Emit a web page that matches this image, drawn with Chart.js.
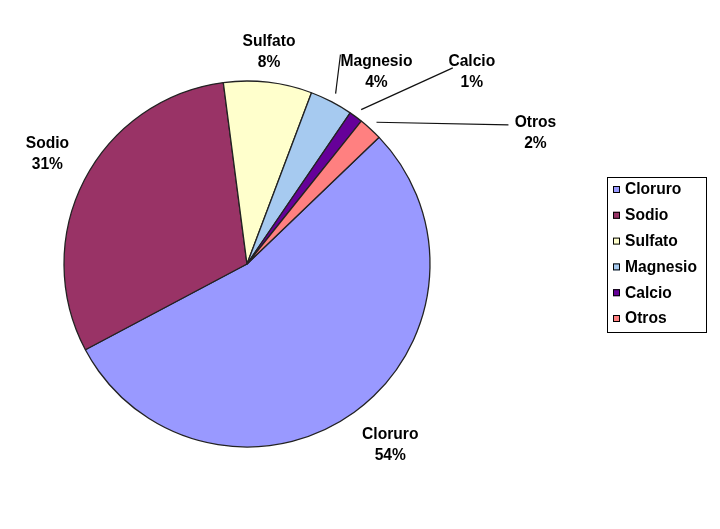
<!DOCTYPE html>
<html>
<head>
<meta charset="utf-8">
<script src="https://cdn.jsdelivr.net/npm/chart.js@4/dist/chart.umd.min.js"></script>
<style>
html,body{margin:0;padding:0;background:#fff;}
#wrap{width:720px;height:529px;position:relative;}
</style>
</head>
<body>
<div id="wrap"><canvas id="c" width="720" height="529"></canvas></div>
<script>
const categories = ["Cloruro", "Sodio", "Sulfato", "Magnesio", "Calcio", "Otros"];
const values = [54.4, 30.7, 7.8, 3.8, 1.2, 2.1];
const colors = ["#9999FF", "#993366", "#FFFFCC", "#A6CAF0", "#660099", "#FF8080"];

// label placement (offset from the outer midpoint of each slice) and leader lines
const labelOffsets = [[36, 32], [-37, -26], [1, -31], [45, -30], [116, -45], [165, 4]];
const leaderEnds = [null, null, null, [-36, -17], [-19, -4], [-27, -8]];

const FONT = "bold 15.6px 'Liberation Sans', Arial, sans-serif";

const labelPlugin = {
  id: 'excelLabels',
  afterDatasetsDraw(chart) {
    const ctx = chart.ctx;
    const meta = chart.getDatasetMeta(0);
    const data = chart.data.datasets[0].data;
    const total = data.reduce((a, b) => a + b, 0);
    ctx.save();
    ctx.font = FONT;
    ctx.fillStyle = '#000';
    ctx.textAlign = 'center';
    ctx.textBaseline = 'middle';
    meta.data.forEach((arc, i) => {
      const p = arc.getProps(['x', 'y', 'startAngle', 'endAngle', 'outerRadius'], true);
      const mid = (p.startAngle + p.endAngle) / 2;
      const ox = p.x + Math.cos(mid) * p.outerRadius;
      const oy = p.y + Math.sin(mid) * p.outerRadius;
      const lx = ox + labelOffsets[i][0];
      const ly = oy + labelOffsets[i][1];
      const pct = Math.round(data[i] / total * 100) + '%';
      ctx.fillText(chart.data.labels[i], lx, ly - 10);
      ctx.fillText(pct, lx, ly + 11);
      if (leaderEnds[i]) {
        const sx = p.x + Math.cos(mid) * (p.outerRadius + 9);
        const sy = p.y + Math.sin(mid) * (p.outerRadius + 9);
        ctx.beginPath();
        ctx.strokeStyle = '#111';
        ctx.lineWidth = 1.2;
        ctx.moveTo(sx, sy);
        ctx.lineTo(lx + leaderEnds[i][0], ly + leaderEnds[i][1]);
        ctx.stroke();
      }
    });
    // legend box
    const bx = 607, by = 177, bw = 99, bh = 155;
    ctx.lineWidth = 1;
    ctx.strokeStyle = '#000';
    ctx.strokeRect(bx + 0.5, by + 0.5, bw, bh);
    ctx.textAlign = 'left';
    const ds = chart.data.datasets[0];
    chart.data.labels.forEach((lab, i) => {
      const y = by + 13 + i * 25.8;
      ctx.fillStyle = ds.backgroundColor[i];
      ctx.fillRect(bx + 6, y - 4, 7, 7);
      ctx.strokeStyle = '#000';
      ctx.strokeRect(bx + 6.5, y - 3.5, 6, 6);
      ctx.fillStyle = '#000';
      ctx.fillText(lab, bx + 18, y);
    });
    ctx.restore();
  }
};

new Chart(document.getElementById('c'), {
  type: 'pie',
  data: {
    labels: categories,
    datasets: [{
      data: values,
      backgroundColor: colors,
      borderColor: '#222',
      borderWidth: 1.3,
      radius: 183
    }]
  },
  options: {
    responsive: false,
    animation: false,
    events: [],
    rotation: 46.2,
    layout: { padding: { left: 50, right: 276, top: 70, bottom: 71 } },
    plugins: {
      legend: { display: false },
      tooltip: { enabled: false },
      title: { display: false }
    }
  },
  plugins: [labelPlugin]
});
</script>
</body>
</html>
